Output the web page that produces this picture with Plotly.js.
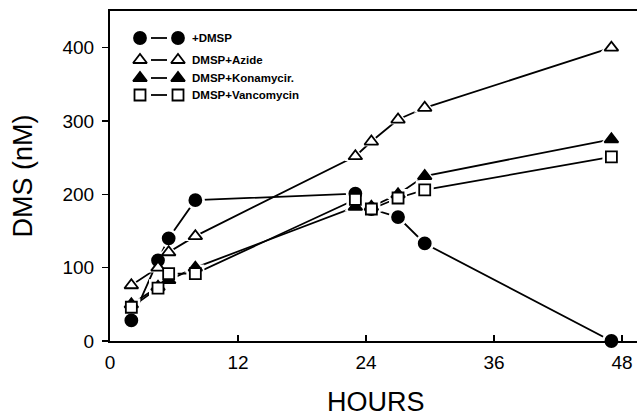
<!DOCTYPE html>
<html>
<head>
<meta charset="utf-8">
<script src="https://cdn.plot.ly/plotly-3.0.1.min.js"></script>
<style>html,body{margin:0;padding:0;background:#fff;}#chart{width:637px;height:419px;}</style>
</head>
<body>
<div id="chart"></div>
<script>
// ---- data ----
const hours = [2, 4.5, 5.5, 8, 23, 24.5, 27, 29.5, 47];
const dmsp  = [28, 110, 140, 192, 201, 180, 169, 133, 0];
const azide = [76, 100, 121, 143, 252, 272, 302, 318, 400];
const kana  = [50, 74, 83, 100, 183, 183, 200, 225, 275];
const vanco = [46, 72, 92, 92, 193, 180, 195, 206, 251];
const seriesNames = ['+DMSP', 'DMSP+Azide', 'DMSP+Konamycir.', 'DMSP+Vancomycin'];
const xTicks = [0, 12, 24, 36, 48];
const yTicks = [0, 100, 200, 300, 400];
const xTitle = 'HOURS';
const yTitle = 'DMS (nM)';

// ---- styles ----
const styles = [
  {symbol: 'circle',      size: 12, fill: '#000'},
  {symbol: 'triangle-up', size: 12, fill: '#fff'},
  {symbol: 'triangle-up', size: 12, fill: '#000'},
  {symbol: 'square',      size: 11, fill: '#fff'}
];
const values = [dmsp, azide, kana, vanco];

const traces = [];
// lines
values.forEach((v, i) => traces.push({
  x: hours, y: v, type: 'scatter', mode: 'lines', showlegend: false, hoverinfo: 'skip',
  line: {color: '#000', width: 1.8}, cliponaxis: false
}));
// white halos (gap between line and marker)
values.forEach((v, i) => traces.push({
  x: hours, y: v, type: 'scatter', mode: 'markers', showlegend: false, hoverinfo: 'skip',
  marker: {symbol: styles[i].symbol, size: styles[i].size + 7, color: '#fff', line: {width: 0}},
  cliponaxis: false
}));
// markers
values.forEach((v, i) => traces.push({
  x: hours, y: v, type: 'scatter', mode: 'markers', name: seriesNames[i], showlegend: false,
  marker: {symbol: styles[i].symbol, size: styles[i].size, color: styles[i].fill,
           line: {color: '#000', width: 1.8}},
  cliponaxis: false
}));

// ---- custom legend on an overlay axis (pixel-like units) ----
const legRowY = [38, 60, 78, 95];
const legX1 = 140, legX2 = 178, legLine = [151, 167], legText = 190;
const annotations = [];
legRowY.forEach((yy, i) => {
  traces.push({
    x: [legLine[0], legLine[1]], y: [yy, yy], xaxis: 'x2', yaxis: 'y2', type: 'scatter',
    mode: 'lines', showlegend: false, hoverinfo: 'skip', line: {color: '#000', width: 1.8}
  });
  traces.push({
    x: [legX1, legX2], y: [yy, yy], xaxis: 'x2', yaxis: 'y2', type: 'scatter',
    mode: 'markers', showlegend: false, hoverinfo: 'skip',
    marker: {symbol: styles[i].symbol, size: styles[i].size, color: styles[i].fill,
             line: {color: '#000', width: 1.8}}
  });
  annotations.push({
    xref: 'x2', yref: 'y2', x: legText, y: yy, text: '<b>' + seriesNames[i] + '</b>',
    showarrow: false, xanchor: 'left', yanchor: 'middle',
    font: {family: 'Liberation Sans, Arial, sans-serif', size: 11.5, color: '#000'}
  });
});

const M = {l: 110, r: 0, t: 11, b: 78};
const W = 637, H = 419;
const plotW = W - M.l - M.r, plotH = H - M.t - M.b;
// x-axis title placed as a paper annotation (centre ~ (376, 402) px)
annotations.push({
  xref: 'paper', yref: 'paper', x: (376 - M.l) / plotW, y: (H - M.b - 402) / plotH,
  text: xTitle, showarrow: false, xanchor: 'center', yanchor: 'middle',
  font: {family: 'Liberation Sans, Arial, sans-serif', size: 27, color: '#000'}
});

const layout = {
  width: W, height: H,
  margin: M,
  paper_bgcolor: '#fff', plot_bgcolor: '#fff',
  font: {family: 'Liberation Sans, Arial, sans-serif', color: '#000'},
  showlegend: false,
  xaxis: {
    range: [0, 49.4], tickvals: xTicks, ticktext: xTicks.map(String),
    ticks: 'inside', ticklen: 6, tickwidth: 1.5, tickcolor: '#000',
    showline: true, linewidth: 2, linecolor: '#000', mirror: true,
    showgrid: false, zeroline: false,
    tickfont: {size: 19}, ticklabelstandoff: 3
  },
  yaxis: {
    range: [0, 450], tickvals: yTicks, ticktext: yTicks.map(String),
    ticks: 'outside', ticklen: 6, tickwidth: 1.5, tickcolor: '#000',
    showline: true, linewidth: 2, linecolor: '#000',
    showgrid: false, zeroline: false,
    tickfont: {size: 19}, ticklabelstandoff: 4,
    title: {text: yTitle, font: {size: 27}, standoff: 22}
  },
  xaxis2: {overlaying: 'x', range: [110, 637], visible: false, fixedrange: true},
  yaxis2: {overlaying: 'y', range: [341, 11], visible: false, fixedrange: true},
  annotations: annotations
};

Plotly.newPlot('chart', traces, layout, {displayModeBar: false, staticPlot: true});
</script>
</body>
</html>
